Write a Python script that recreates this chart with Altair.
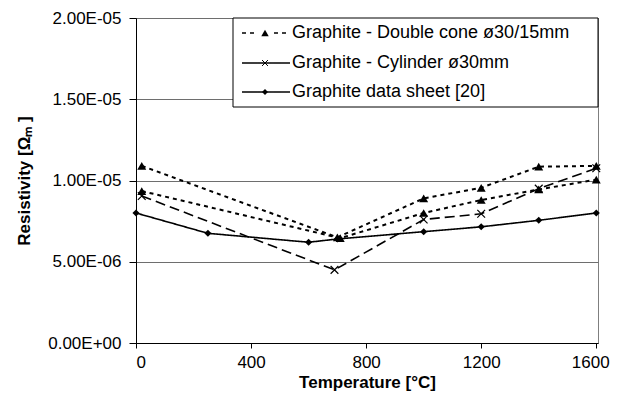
import altair as alt
import pandas as pd

# ---- data ----
cone_a_temp = [20, 700, 1000, 1200, 1400, 1600]
cone_a_res = [10.9e-6, 6.5e-6, 8.9e-6, 9.55e-6, 10.85e-6, 10.9e-6]
cone_b_temp = [20, 710, 1000, 1200, 1400, 1600]
cone_b_res = [9.35e-6, 6.45e-6, 8.0e-6, 8.8e-6, 9.45e-6, 10.05e-6]
cyl_temp = [20, 690, 1000, 1200, 1400, 1600]
cyl_res = [9.05e-6, 4.5e-6, 7.6e-6, 7.95e-6, 9.5e-6, 10.75e-6]
sheet_temp = [0, 250, 600, 700, 1000, 1200, 1400, 1600]
sheet_res = [8.0e-6, 6.75e-6, 6.2e-6, 6.4e-6, 6.85e-6, 7.15e-6, 7.55e-6, 8.0e-6]

legend_labels = ["Graphite - Double cone ø30/15mm",
                 "Graphite - Cylinder ø30mm",
                 "Graphite data sheet [20]"]
x_ticks = [0, 400, 800, 1200, 1600]
y_ticks = [0, 5e-6, 1e-5, 1.5e-5, 2e-5]

FONT = "Liberation Sans"
W, H = 462, 325
CROSS = "M-1,-1L1,1M-1,1L1,-1"

xs = alt.Scale(domain=[0, 1606], nice=False, zero=False)
ys = alt.Scale(domain=[0, 2e-5], nice=False)

x_axis = alt.Axis(values=x_ticks, grid=False, title="Temperature [°C]",
                  format="d", tickSize=5, labelPadding=6, titlePadding=4,
                  labelOffset={"condition": {"test": "datum.value == 1600", "value": -6},
                               "value": 0},
                  domainColor="black", tickColor="black")
y_axis = alt.Axis(values=y_ticks, grid=True, gridColor="#6e6e6e",
                  title="Resistivity [Ωₘ ]", tickSize=7, labelPadding=8,
                  titlePadding=14, domainColor="black", tickColor="black",
                  labelExpr="datum.value == 0 ? '0.00E+00' : replace(upper(format(datum.value, '.2e')), 'E-', 'E-0')")


def series(temps, vals, dash, shape, size, filled, width):
    df = pd.DataFrame({"T": temps, "R": vals})
    enc = dict(
        x=alt.X("T:Q", scale=xs, axis=x_axis),
        y=alt.Y("R:Q", scale=ys, axis=y_axis),
    )
    line = alt.Chart(df).mark_line(color="black", strokeWidth=width,
                                   strokeDash=dash).encode(**enc)
    pts = alt.Chart(df).mark_point(shape=shape, size=size, filled=filled,
                                   color="black", strokeWidth=1.2,
                                   opacity=1).encode(**enc)
    return [line, pts]


layers = []
layers += series(sheet_temp, sheet_res, [1, 0], "diamond", 50, True, 1.6)
layers += series(cyl_temp, cyl_res, [10, 5], CROSS, 60, False, 1.6)
layers += series(cone_a_temp, cone_a_res, [4, 4], "triangle-up", 80, True, 2)
layers += series(cone_b_temp, cone_b_res, [4, 4], "triangle-up", 80, True, 2)

# ---- legend box ----
one = pd.DataFrame({"k": [0]})
layers.append(alt.Chart(one).mark_rect(fill="white", stroke="black",
                                       strokeWidth=1).encode(
    x=alt.value(97), x2=alt.value(W), y=alt.value(0), y2=alt.value(89)))

row_y = [15, 45, 74]
row_dash = [[4, 4], [1, 0], [1, 0]]
row_shape = ["triangle-up", CROSS, "diamond"]
row_fill = [True, False, True]
row_size = [55, 35, 35]
for i, lab in enumerate(legend_labels):
    d = pd.DataFrame({"label": [lab]})
    layers.append(alt.Chart(d).mark_rule(color="black", strokeWidth=1.6,
                                         strokeDash=row_dash[i]).encode(
        x=alt.value(106), x2=alt.value(154), y=alt.value(row_y[i])))
    if i == 0:
        layers.append(alt.Chart(d).mark_rule(color="white", strokeWidth=3).encode(
            x=alt.value(122), x2=alt.value(136), y=alt.value(row_y[i])))
    layers.append(alt.Chart(d).mark_point(shape=row_shape[i], size=row_size[i],
                                          filled=row_fill[i], color="black",
                                          opacity=1, strokeWidth=1).encode(
        x=alt.value(129), y=alt.value(row_y[i])))
    layers.append(alt.Chart(d).mark_text(align="left", baseline="middle",
                                         font=FONT, fontSize=18,
                                         color="black").encode(
        x=alt.value(156), y=alt.value(row_y[i]), text="label:N"))

chart = alt.layer(*layers).properties(
    width=W, height=H,
    autosize=alt.AutoSizeParams(type="none"),
    padding={"left": 128, "top": 10, "right": 12, "bottom": 50},
).configure_view(stroke="#7f7f7f", strokeWidth=1).configure_axis(
    labelFont=FONT, titleFont=FONT, labelFontSize=17, titleFontSize=17,
    labelColor="black", titleColor="black", titleFontWeight="bold",
)

chart.save("out.html", embed_options={"renderer": "svg", "actions": False})
